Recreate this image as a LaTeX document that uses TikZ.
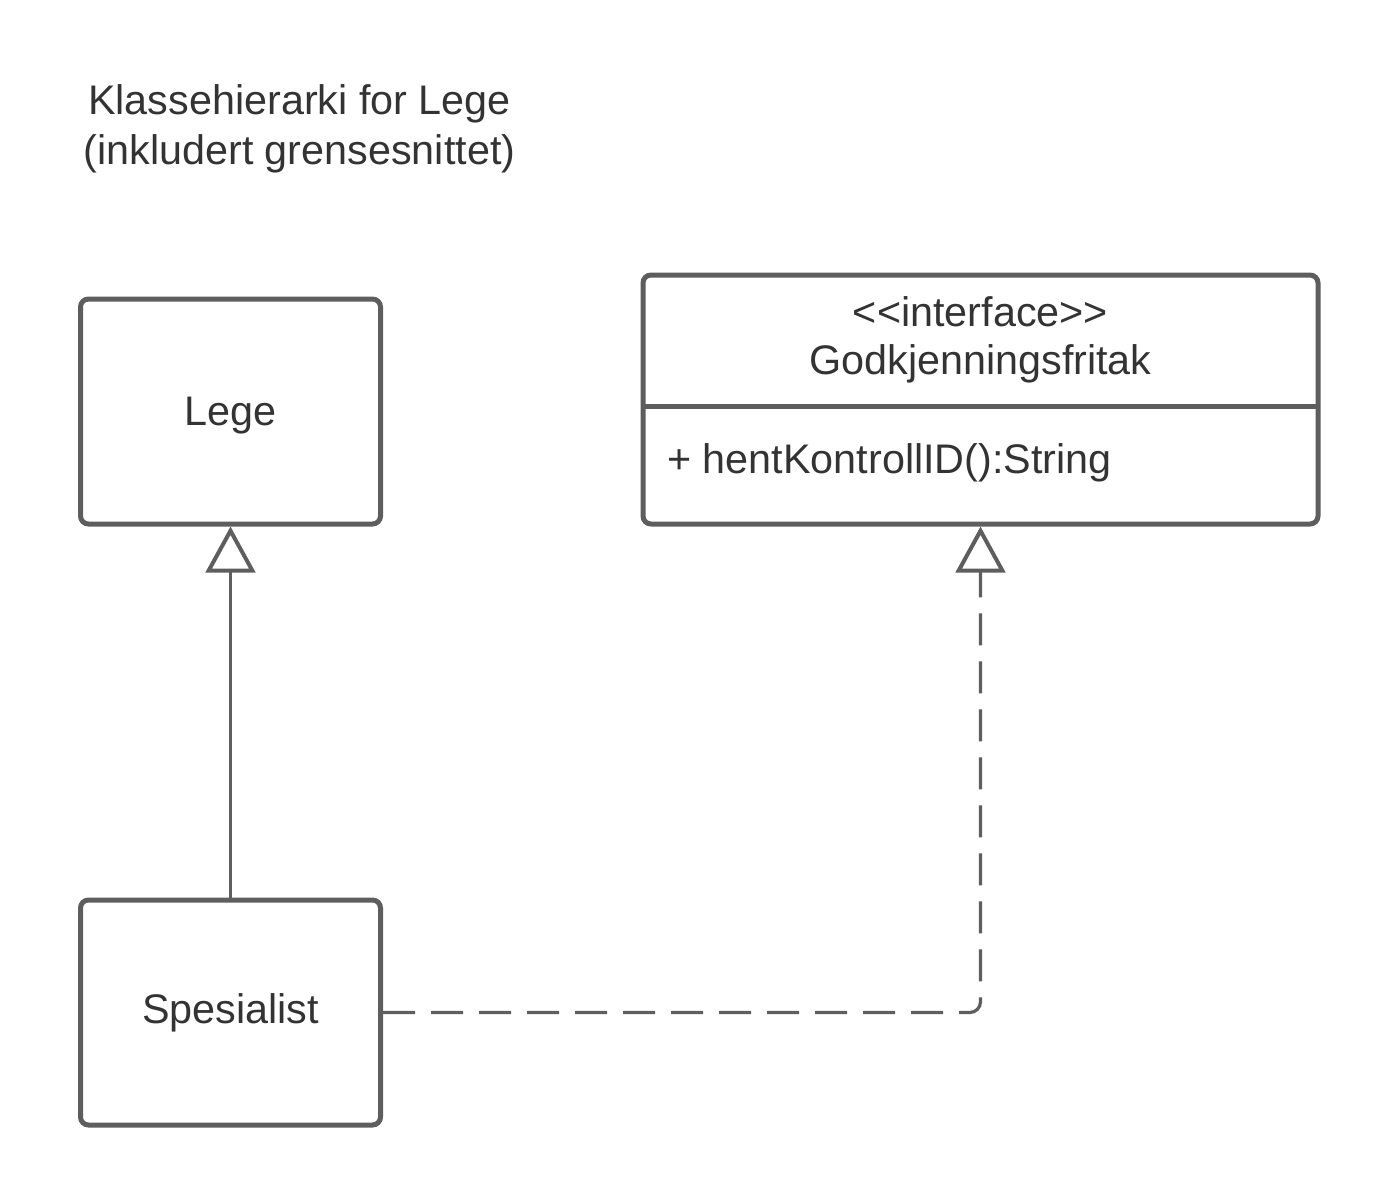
\documentclass[tikz,border=0pt]{standalone}
\usepackage{fontspec}
\setmainfont{Liberation Sans}
\usetikzlibrary{arrows.meta}
\definecolor{linec}{HTML}{5E5E5E}
\definecolor{textc}{HTML}{333333}
\begin{document}
\begin{tikzpicture}[x=0.75pt,y=-0.75pt,
  lbl/.style={text=textc, font=\fontsize{31}{37.5}\selectfont, inner sep=0pt},
  box/.style={lbl, draw=linec, line width=3.75pt, rounded corners=6pt,
    minimum width=225pt, minimum height=168.75pt},
  gen/.style={draw=linec, line width=2.4pt,
    -{Triangle[open, length=34.5pt, width=37pt, line width=3pt]}},
  real/.style={gen, dash pattern=on 24pt off 12pt, rounded corners=8pt}]
\useasboundingbox (0,0) rectangle (1393,1200);
\node[lbl, align=center] (title) at (299.5,129) {Klassehierarki for Lege\\(inkludert grensesnittet)};
\node[box, text depth=0pt, text height=0pt] (lege) at (230.5,411.5) {\raisebox{-0.33em}{Lege}};
\node[box] (spes) at (230.5,1012.5) {Spesialist};
\node[box, minimum width=506.25pt, minimum height=186.75pt] (iface) at (980.5,399.5) {};
\coordinate (divl) at (643,406);
\coordinate (divr) at (1318,406);
\draw[draw=linec, line width=3.75pt] (divl) -- (divr);
\node[lbl] (stereo) at (980.5,312) {\textless\kern0pt\textless\kern0pt interface\kern0pt\textgreater\kern0pt\textgreater};
\node[lbl] (iname) at (980.5,364) {Godkjenningsfritak};
\node[lbl, anchor=west] (meth) at (667,463) {+ hentKontrollID():String};
\draw[gen] (spes.north) -- (lege.south);
\draw[real] (spes.east) -| (iface.south);
\end{tikzpicture}
\end{document}
